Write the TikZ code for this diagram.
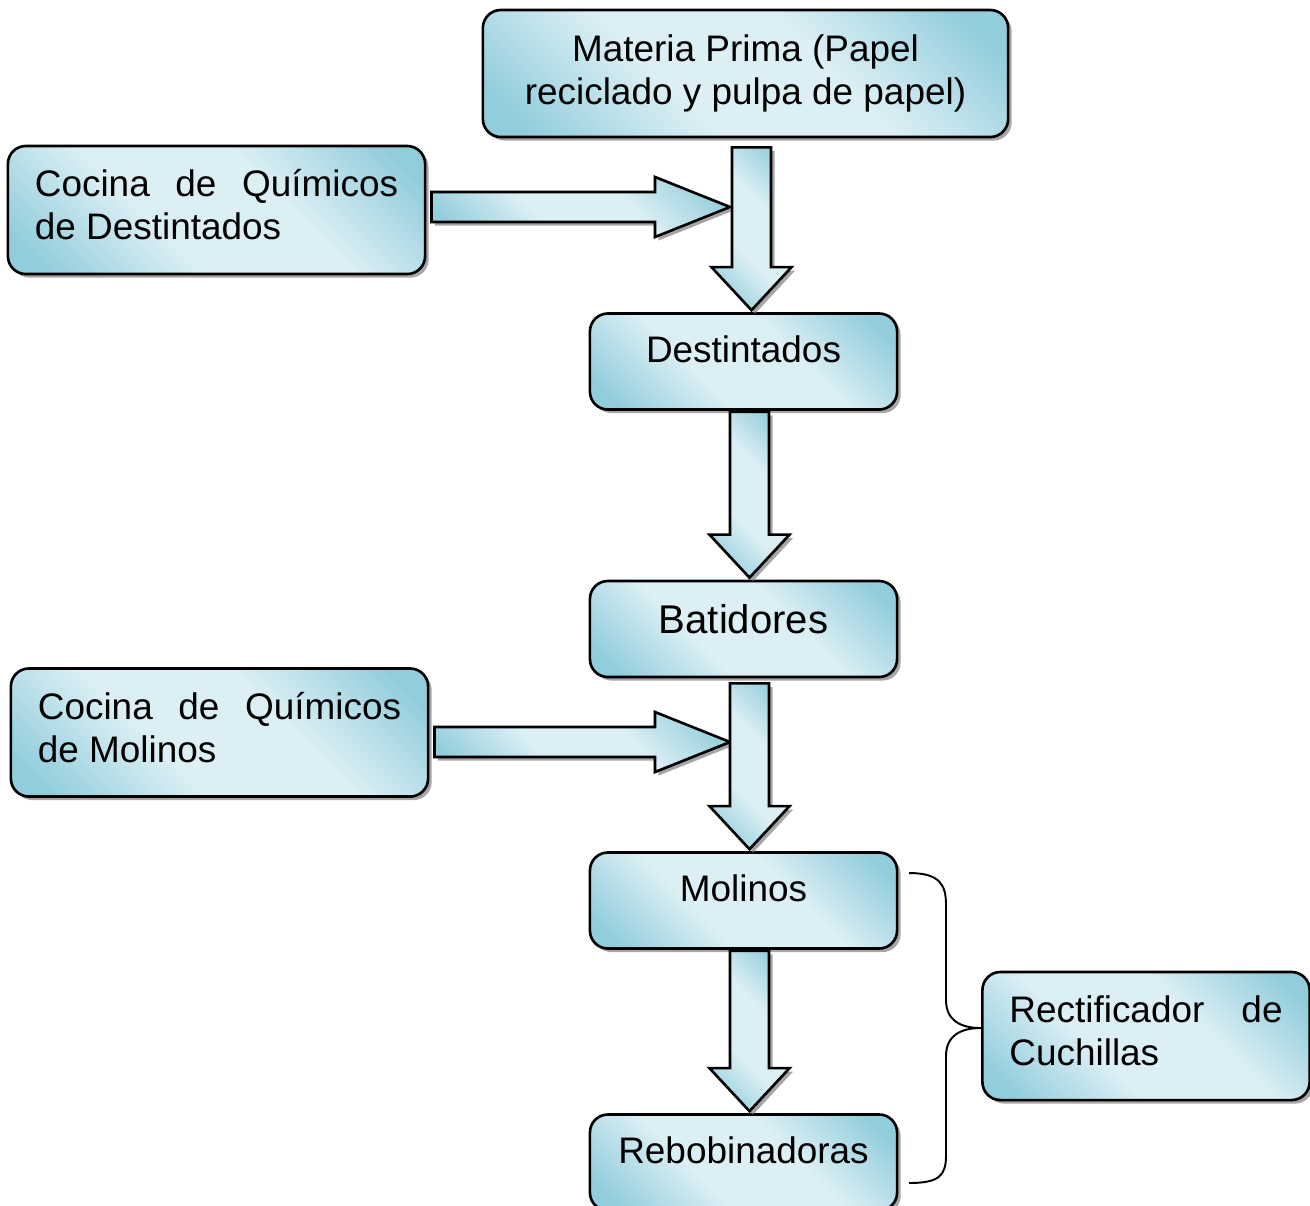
\documentclass[tikz,border=0pt]{standalone}
\usepackage{fontspec}
\setmainfont{Liberation Sans}
\usepackage{tikz}
\usetikzlibrary{calc}
\usetikzlibrary{shadows}

\definecolor{aquadark}{RGB}{146,205,220}
\definecolor{aqualight}{RGB}{220,239,244}
\pgfdeclarehorizontalshading{aquafill}{100bp}{color(0bp)=(aquadark); color(20bp)=(aquadark); color(40bp)=(aqualight); color(60bp)=(aqualight); color(80bp)=(aquadark); color(100bp)=(aquadark)}

\tikzset{
  flowbox/.style={draw, line width=0.75pt, rounded corners=0.18cm, shading=aquafill, shading angle=45,
    drop shadow={shadow xshift=1pt, shadow yshift=-1pt, fill=black!50, opacity=0.7},
    font=\fontsize{10.5}{12.3}\selectfont, inner sep=0pt},
  singlebox/.style={flowbox, minimum width=3.07cm, minimum height=0.96cm, text height=0.25cm, text depth=0.23cm},
  sidebox/.style={flowbox, minimum height=1.28cm, align=justify, text height=0.29cm, text depth=0.56cm},
  blockarrow/.style={draw, line width=0.75pt, shading=aquafill, shading angle=45,
    drop shadow={shadow xshift=1pt, shadow yshift=-1pt, fill=black!50, opacity=0.7}},
  bracket/.style={draw, line width=0.55pt},
}

\newcommand{\flowdown}[3]{%
  \draw[blockarrow] let \p1=($(#1.south)+(6,#3)$), \p2=($(#2.north)+(0,-2)$) in
    (\x1-0.195cm,\y1) -- (\x1+0.195cm,\y1) -- (\x1+0.195cm,\y2+0.43cm) -- (\x1+0.4cm,\y2+0.43cm)
    -- (\x1,\y2) -- (\x1-0.4cm,\y2+0.43cm) -- (\x1-0.195cm,\y2+0.43cm) -- cycle;}
\newcommand{\flowright}[2]{%
  \draw[blockarrow] let \p1=($(#1.east)+(5,0)$), \p2=(#2) in
    (\x1,\y2+0.15cm) -- (\x2-0.75cm,\y2+0.15cm) -- (\x2-0.75cm,\y2+0.3cm) -- (\x2,\y2)
    -- (\x2-0.75cm,\y2-0.3cm) -- (\x2-0.75cm,\y2-0.15cm) -- (\x1,\y2-0.15cm) -- cycle;}

\begin{document}
\begin{tikzpicture}[x=0.01cm, y=-0.01cm]
      \clip (0,0) rectangle (1310,1205);
      % boxes
      \node[flowbox, minimum width=5.25cm, minimum height=1.27cm, align=center] (mp) at (745.5,73.5)
        {Materia Prima (Papel\\reciclado y pulpa de papel)};
      \node[sidebox, minimum width=4.17cm, text width=3.63cm] (cocinaD) at (216.5,210)
        {Cocina de Químicos\linebreak de Destintados};
      \node[singlebox] (dest) at (743.5,361.5) {Destintados};
      \node[singlebox, font=\fontsize{11.4}{13.7}\selectfont, text height=0.28cm, text depth=0.2cm]
        (bat) at (743.5,629) {Batidores};
      \node[sidebox, minimum width=4.17cm, text width=3.63cm] (cocinaM) at (219.5,732.5)
        {Cocina de Químicos\linebreak de Molinos};
      \node[singlebox] (mol) at (743.5,900.5) {Molinos};
      \node[singlebox] (reb) at (743.5,1162.5) {Rebobinadoras};
      \node[sidebox, minimum width=3.27cm, text width=2.73cm] (rect) at (1146,1036)
        {Rectificador de\linebreak Cuchillas};
      % arrows
      \coordinate (joinD) at (730,207);
      \coordinate (joinM) at (730,742);
      \flowright{cocinaD}{joinD}
      \flowright{cocinaM}{joinM}
      \flowdown{mp}{dest}{9}
      \flowdown{dest}{bat}{1}
      \flowdown{bat}{mol}{5}
      \flowdown{mol}{reb}{1}
      % brace
      \coordinate (braceTop) at (909,873);
      \coordinate (braceBot) at (909,1183);
      \coordinate (braceTip) at ($(rect.west)+(0,-8)$);
      \draw[bracket] (braceTop) .. controls (940,873) and (946,885) .. (946,905) -- (946,1000)
        .. controls (946,1020) and (960,1028) .. (braceTip);
      \draw[bracket] (braceTip) .. controls (960,1028) and (946,1036) .. (946,1056) -- (946,1155)
        .. controls (946,1175) and (940,1183) .. (braceBot);
    \end{tikzpicture}
\end{document}
